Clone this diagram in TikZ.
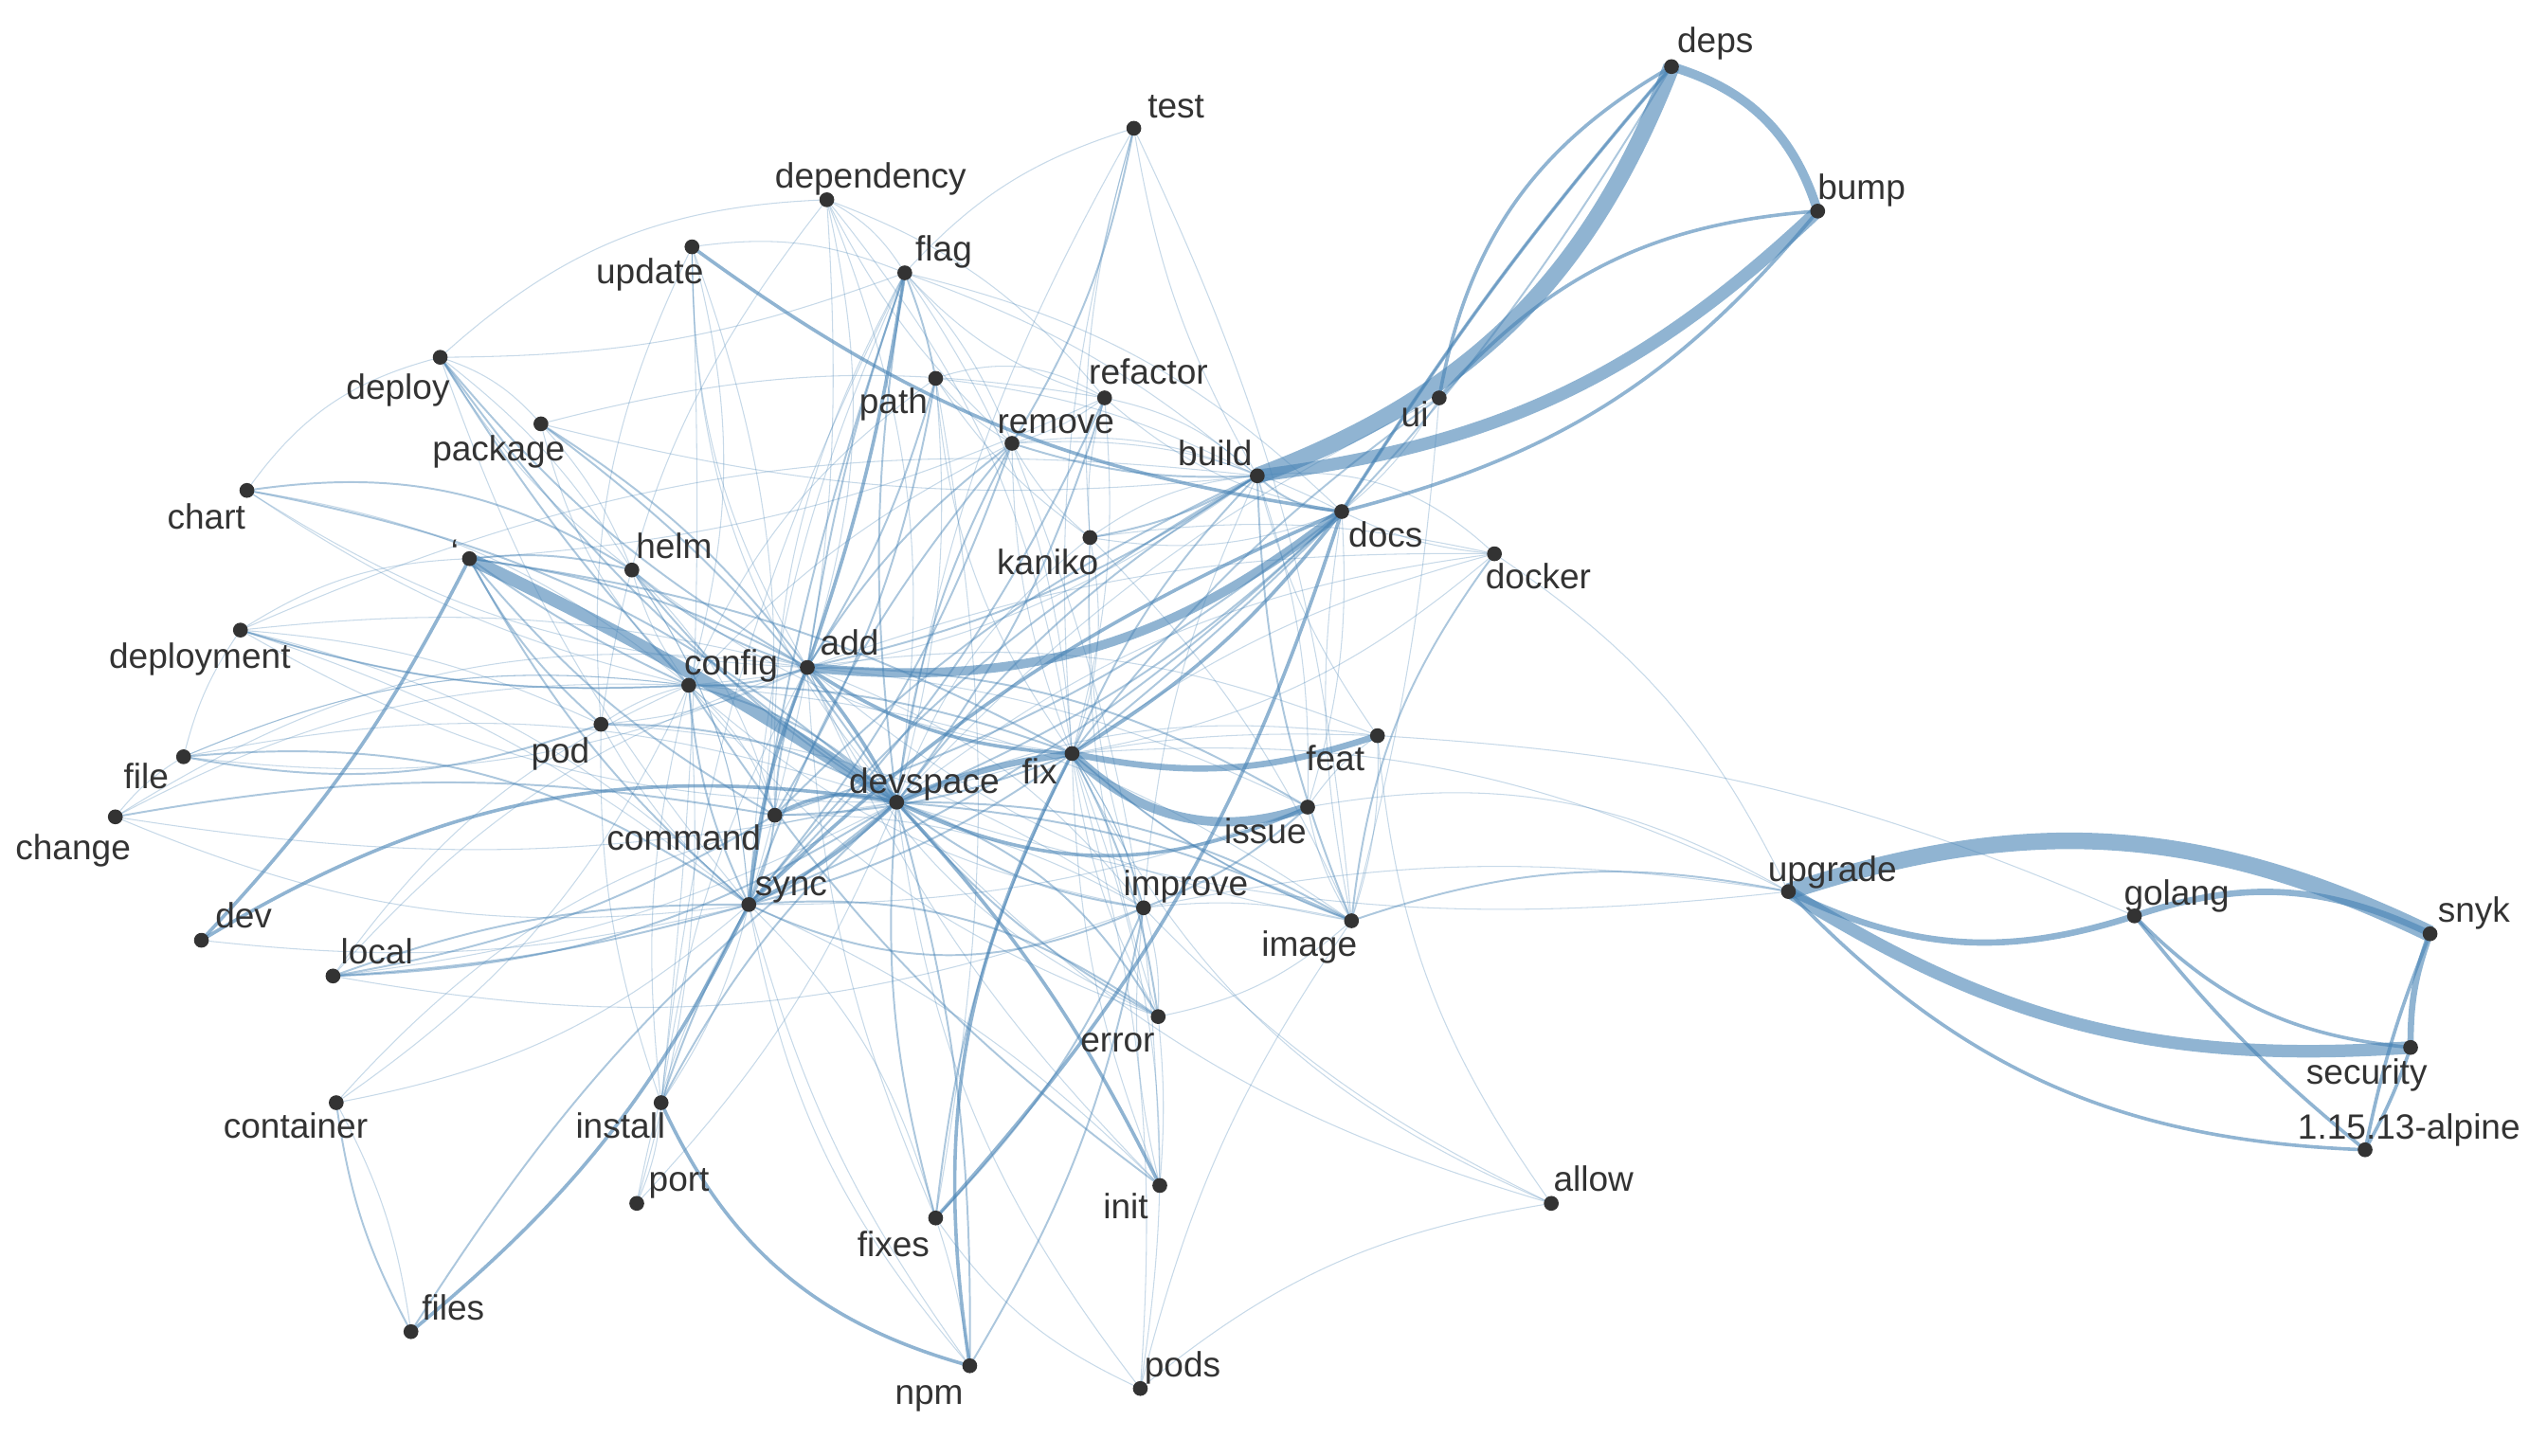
\documentclass[tikz,border=0pt]{standalone}
\usepackage{fontspec}
\setmainfont{Liberation Sans}
\definecolor{edgeblue}{HTML}{4682B4}
\definecolor{inkgray}{HTML}{333333}
\tikzset{
  dot/.style={circle, fill=inkgray, inner sep=0pt, minimum size=5.2pt},
  lbl/.style={text=inkgray, inner sep=0pt, text height=9pt, text depth=2.6pt,
    font=\fontsize{12.3}{14}\selectfont},
  w1/.style={draw=edgeblue, line width=0.35pt, draw opacity=0.3},
  w2/.style={draw=edgeblue, line width=0.65pt, draw opacity=0.45},
  w3/.style={draw=edgeblue, line width=1.2pt, draw opacity=0.6},
  w4/.style={draw=edgeblue, line width=2.2pt, draw opacity=0.6},
  w5/.style={draw=edgeblue, line width=3.2pt, draw opacity=0.6},
  w6/.style={draw=edgeblue, line width=4.4pt, draw opacity=0.6},
  w7/.style={draw=edgeblue, line width=5.8pt, draw opacity=0.6}
}
\begin{document}
\begin{tikzpicture}[x=0.02cm, y=-0.02cm]
      \useasboundingbox (0,0) rectangle (1568,896);
      \path
        (1029,41) coordinate (deps)
        (1119,130) coordinate (bump)
        (698,79) coordinate (test)
        (509,123) coordinate (dependency)
        (557,168) coordinate (flag)
        (426,152) coordinate (update)
        (271,220) coordinate (deploy)
        (680,245) coordinate (refactor)
        (576,233) coordinate (path)
        (623,273) coordinate (remove)
        (886,245) coordinate (ui)
        (333,261) coordinate (package)
        (774,293) coordinate (build)
        (826,315) coordinate (docs)
        (152,302) coordinate (chart)
        (671,331) coordinate (kaniko)
        (920,341) coordinate (docker)
        (389,351) coordinate (helm)
        (289,344) coordinate (tick)
        (148,388) coordinate (deployment)
        (497,411) coordinate (add)
        (424,422) coordinate (config)
        (370,446) coordinate (pod)
        (113,466) coordinate (file)
        (71,503) coordinate (change)
        (848,453) coordinate (feat)
        (660,464) coordinate (fix)
        (552,494) coordinate (devspace)
        (477,502) coordinate (command)
        (805,497) coordinate (issue)
        (461,557) coordinate (sync)
        (704,559) coordinate (improve)
        (832,567) coordinate (image)
        (124,579) coordinate (dev)
        (205,601) coordinate (local)
        (1101,549) coordinate (upgrade)
        (1314,564) coordinate (golang)
        (1496,575) coordinate (snyk)
        (1484,645) coordinate (security)
        (1456,708) coordinate (alpine)
        (713,626) coordinate (error)
        (207,679) coordinate (container)
        (407,679) coordinate (install)
        (392,741) coordinate (port)
        (576,750) coordinate (fixes)
        (714,730) coordinate (init)
        (955,741) coordinate (allow)
        (253,820) coordinate (files)
        (597,841) coordinate (npm)
        (702,855) coordinate (pods);
      \begin{scope}[w1]
        \draw (devspace) to[bend left=15] (deployment);
        \draw (devspace) to[bend right=15] (pods);
        \draw (devspace) to[bend left=10] (port);
        \draw (devspace) to[bend right=20] (container);
        \draw (devspace) to[bend left=15] (kaniko);
        \draw (devspace) to[bend right=10] (path);
        \draw (devspace) to[bend left=20] (update);
        \draw (devspace) to[bend right=15] (dependency);
        \draw (devspace) to[bend left=10] (test);
        \draw (devspace) to[bend left=15] (feat);
        \draw (devspace) to[bend right=12] (upgrade);
        \draw (devspace) to[bend right=15] (allow);
        \draw (devspace) to[bend left=15] (docker);
        \draw (devspace) to[bend right=15] (file);
        \draw (devspace) to[bend left=10] (change);
        \draw (add) to[bend left=15] (update);
        \draw (add) to[bend right=15] (dependency);
        \draw (add) to[bend left=15] (feat);
        \draw (add) to[bend right=15] (image);
        \draw (add) to[bend left=15] (improve);
        \draw (add) to[bend right=20] (error);
        \draw (add) to[bend left=10] (docker);
        \draw (add) to[bend right=10] (deployment);
        \draw (add) to[bend left=15] (chart);
        \draw (add) to[bend right=15] (local);
        \draw (add) to[bend left=10] (pod);
        \draw (add) to[bend right=10] (install);
        \draw (add) to[bend left=15] (file);
        \draw (add) to[bend right=20] (change);
        \draw (fix) to[bend left=10] (improve);
        \draw (fix) to[bend right=10] (init);
        \draw (fix) to[bend left=15] (pods);
        \draw (fix) to[bend right=15] (kaniko);
        \draw (fix) to[bend left=10] (remove);
        \draw (fix) to[bend right=10] (refactor);
        \draw (fix) to[bend left=15] (path);
        \draw (fix) to[bend right=15] (flag);
        \draw (fix) to[bend left=10] (test);
        \draw (fix) to[bend right=15] (dependency);
        \draw (fix) to[bend left=15] (helm);
        \draw (fix) to[bend right=20] (allow);
        \draw (fix) to[bend left=15] (upgrade);
        \draw (fix) to[bend right=15] (docker);
        \draw (sync) to[bend left=15] (container);
        \draw (sync) to[bend right=15] (deployment);
        \draw (sync) to[bend left=15] (change);
        \draw (sync) to[bend right=15] (helm);
        \draw (sync) to[bend left=10] (pod);
        \draw (sync) to[bend right=10] (port);
        \draw (sync) to[bend left=10] (flag);
        \draw (sync) to[bend right=15] (update);
        \draw (sync) to[bend left=15] (fixes);
        \draw (sync) to[bend right=15] (npm);
        \draw (sync) to[bend left=10] (init);
        \draw (sync) to[bend right=10] (issue);
        \draw (sync) to[bend left=10] (dev);
        \draw (command) to[bend left=15] (flag);
        \draw (command) to[bend right=15] (config);
        \draw (command) to[bend left=15] (improve);
        \draw (command) to[bend right=15] (helm);
        \draw (config) to[bend left=10] (deployment);
        \draw (config) to[bend right=15] (file);
        \draw (config) to[bend left=15] (package);
        \draw (config) to[bend right=15] (update);
        \draw (config) to[bend left=10] (helm);
        \draw (config) to[bend right=10] (pod);
        \draw (config) to[bend left=15] (image);
        \draw (config) to[bend right=15] (improve);
        \draw (config) to[bend left=15] (path);
        \draw (config) to[bend right=15] (chart);
        \draw (config) to[bend left=15] (container);
        \draw (build) to[bend left=10] (test);
        \draw (build) to[bend left=25] (docker);
        \draw (build) to[bend right=15] (refactor);
        \draw (build) to[bend left=10] (issue);
        \draw (build) to[bend right=10] (improve);
        \draw (build) to[bend right=15] (deployment);
        \draw (build) to[bend left=10] (package);
        \draw (build) to[bend right=10] (path);
        \draw (build) to[bend left=15] (config);
        \draw (docs) to[bend right=10] (docker);
        \draw (docs) to[bend left=15] (kaniko);
        \draw (docs) to[bend right=10] (image);
        \draw (docs) to[bend left=10] (issue);
        \draw (docs) to[bend right=15] (remove);
        \draw (docs) to[bend left=15] (refactor);
        \draw (docs) to[bend right=15] (flag);
        \draw (update) to[bend left=4] (install);
        \draw (update) to[bend right=15] (pod);
        \draw (update) to[bend left=15] (flag);
        \draw (deploy) to[bend left=20] (dependency);
        \draw (deploy) to[bend right=20] (chart);
        \draw (deploy) to[bend right=10] (flag);
        \draw (deploy) to[bend left=10] (helm);
        \draw (deploy) to[bend right=10] (sync);
        \draw (deploy) to[bend left=15] (package);
        \draw (dependency) to[bend left=15] (flag);
        \draw (dependency) to[bend right=10] (remove);
        \draw (dependency) to[bend left=10] (sync);
        \draw (dependency) to[bend left=15] (refactor);
        \draw (dependency) to[bend right=15] (pod);
        \draw (flag) to[bend left=10] (build);
        \draw (flag) to[bend right=15] (refactor);
        \draw (flag) to[bend left=10] (remove);
        \draw (flag) to[bend right=10] (install);
        \draw (path) to[bend left=25] (refactor);
        \draw (path) to[bend right=10] (remove);
        \draw (path) to[bend left=10] (fixes);
        \draw (path) to[bend right=10] (kaniko);
        \draw (refactor) to[bend left=10] (remove);
        \draw (refactor) to[bend right=10] (kaniko);
        \draw (refactor) to[bend left=10] (tick);
        \draw (package) to[bend left=12] (refactor);
        \draw (remove) to[bend left=15] (build);
        \draw (remove) to[bend right=10] (config);
        \draw (remove) to[bend left=10] (init);
        \draw (remove) to[bend right=10] (kaniko);
        \draw (test) to[bend right=10] (kaniko);
        \draw (test) to[bend left=10] (image);
        \draw (test) to[bend right=15] (flag);
        \draw (kaniko) to[bend left=10] (docker);
        \draw (kaniko) to[bend right=10] (improve);
        \draw (kaniko) to[bend left=10] (image);
        \draw (kaniko) to[bend right=10] (error);
        \draw (kaniko) to[bend left=15] (build);
        \draw (helm) to[bend left=10] (deploy);
        \draw (helm) to[bend right=10] (package);
        \draw (helm) to[bend left=15] (sync);
        \draw (chart) to[bend right=10] (config);
        \draw (deployment) to[bend left=15] (tick);
        \draw (deployment) to[bend left=10] (sync);
        \draw (deployment) to[bend right=10] (file);
        \draw (deployment) to[bend left=10] (pod);
        \draw (pod) to[bend right=10] (install);
        \draw (pod) to[bend left=15] (improve);
        \draw (file) to[bend right=10] (change);
        \draw (file) to[bend left=15] (config);
        \draw (change) to[bend left=15] (config);
        \draw (local) to[bend right=10] (devspace);
        \draw (local) to[bend left=15] (config);
        \draw (local) to[bend right=15] (improve);
        \draw (container) to[bend left=10] (files);
        \draw (install) to[bend left=10] (port);
        \draw (install) to[bend right=10] (sync);
        \draw (install) to[bend left=10] (config);
        \draw (port) to[bend right=10] (config);
        \draw (fixes) to[bend left=10] (add);
        \draw (fixes) to[bend right=15] (pods);
        \draw (fixes) to[bend left=5] (npm);
        \draw (npm) to[bend left=10] (sync);
        \draw (pods) to[bend left=15] (allow);
        \draw (pods) to[bend right=10] (fix);
        \draw (pods) to[bend left=10] (image);
        \draw (init) to[bend left=10] (improve);
        \draw (init) to[bend right=5] (error);
        \draw (init) to[bend left=10] (add);
        \draw (error) to[bend right=10] (improve);
        \draw (error) to[bend left=10] (fix);
        \draw (error) to[bend right=15] (image);
        \draw (error) to[bend left=15] (config);
        \draw (improve) to[bend right=10] (fix);
        \draw (improve) to[bend left=10] (image);
        \draw (improve) to[bend left=10] (upgrade);
        \draw (image) to[bend left=10] (fix);
        \draw (image) to[bend right=5] (ui);
        \draw (image) to[bend right=10] (feat);
        \draw (image) to[bend left=10] (issue);
        \draw (issue) to[bend left=20] (upgrade);
        \draw (issue) to[bend right=10] (add);
        \draw (issue) to[bend left=10] (feat);
        \draw (feat) to[bend right=10] (devspace);
        \draw (feat) to[bend left=10] (golang);
        \draw (feat) to[bend right=15] (allow);
        \draw (feat) to[bend left=10] (build);
        \draw (docker) to[bend left=15] (upgrade);
        \draw (docker) to[bend right=10] (fix);
        \draw (allow) to[bend left=10] (improve);
        \draw (ui) to[bend right=10] (devspace);
        \draw (ui) to[bend left=10] (docs);
      \end{scope}
      \begin{scope}[w2]
        \draw (devspace) to[bend right=15] (config);
        \draw (devspace) to[bend left=10] (deploy);
        \draw (devspace) to[bend right=10] (package);
        \draw (devspace) to[bend left=10] (helm);
        \draw (devspace) to[bend right=15] (chart);
        \draw (devspace) to[bend left=15] (image);
        \draw (devspace) to[bend right=15] (improve);
        \draw (devspace) to[bend left=20] (error);
        \draw (devspace) to[bend right=10] (fixes);
        \draw (devspace) to[bend left=8] (npm);
        \draw (devspace) to[bend right=10] (install);
        \draw (devspace) to[bend left=15] (local);
        \draw (devspace) to[bend right=10] (files);
        \draw (devspace) to[bend left=10] (build);
        \draw (devspace) to[bend right=10] (docs);
        \draw (devspace) to[bend left=10] (remove);
        \draw (devspace) to[bend right=10] (refactor);
        \draw (devspace) to[bend left=8] (flag);
        \draw (devspace) to[bend right=15] (pod);
        \draw (add) to[bend left=10] (config);
        \draw (add) to[bend right=10] (command);
        \draw (add) to[bend left=5] (flag);
        \draw (add) to[bend right=8] (path);
        \draw (add) to[bend left=10] (remove);
        \draw (add) to[bend right=10] (build);
        \draw (add) to[bend left=10] (deploy);
        \draw (add) to[bend right=10] (package);
        \draw (add) to[bend left=12] (helm);
        \draw (add) to[bend right=10] (tick);
        \draw (add) to[bend left=15] (issue);
        \draw (fix) to[bend left=10] (build);
        \draw (fix) to[bend right=10] (deps);
        \draw (fix) to[bend left=10] (sync);
        \draw (fix) to[bend right=10] (config);
        \draw (fix) to[bend left=10] (command);
        \draw (fix) to[bend right=10] (fixes);
        \draw (fix) to[bend left=10] (error);
        \draw (fix) to[bend right=10] (image);
        \draw (fix) to[bend right=10] (tick);
        \draw (sync) to[bend right=10] (local);
        \draw (sync) to[bend left=6] (local);
        \draw (sync) to[bend right=20] (file);
        \draw (sync) to[bend left=10] (config);
        \draw (sync) to[bend right=10] (command);
        \draw (sync) to[bend left=10] (tick);
        \draw (sync) to[bend right=5] (install);
        \draw (sync) to[bend left=20] (error);
        \draw (sync) to[bend right=25] (improve);
        \draw (sync) to[bend left=10] (build);
        \draw (sync) to[bend right=10] (docs);
        \draw (sync) to[bend left=10] (remove);
        \draw (sync) to[bend right=10] (refactor);
        \draw (command) to[bend left=10] (tick);
        \draw (command) to[bend right=10] (change);
        \draw (command) to[bend left=10] (local);
        \draw (command) to[bend right=10] (docs);
        \draw (command) to[bend left=10] (build);
        \draw (command) to[bend right=10] (path);
        \draw (config) to[bend left=5] (tick);
        \draw (config) to[bend right=10] (init);
        \draw (config) to[bend left=10] (deployment);
        \draw (build) to[bend left=10] (kaniko);
        \draw (build) to[bend right=20] (docs);
        \draw (build) to[bend left=10] (remove);
        \draw (build) to[bend right=10] (image);
        \draw (tick) to[bend left=10] (helm);
        \draw (tick) to[bend right=10] (pod);
        \draw (chart) to[bend left=20] (helm);
        \draw (deploy) to[bend right=5] (config);
        \draw (flag) to[bend left=5] (path);
        \draw (flag) to[bend right=5] (sync);
        \draw (remove) to[bend right=10] (test);
        \draw (remove) to[bend left=10] (sync);
        \draw (file) to[bend right=15] (pod);
        \draw (fixes) to[bend right=10] (improve);
        \draw (npm) to[bend right=10] (improve);
        \draw (files) to[bend left=10] (container);
        \draw (error) to[bend left=10] (devspace);
        \draw (improve) to[bend right=10] (issue);
        \draw (image) to[bend left=15] (docker);
        \draw (image) to[bend left=15] (upgrade);
        \draw (image) to[bend right=10] (devspace);
        \draw (ui) to[bend right=8] (fix);
        \draw (deps) to[bend right=4] (docs);
      \end{scope}
      \begin{scope}[w3]
        \draw (golang) to[bend right=20] (security);
        \draw (upgrade) to[bend right=22] (alpine);
        \draw (golang) to[bend right=6] (alpine);
        \draw (snyk) to[bend right=5] (alpine);
        \draw (security) to[bend left=5] (alpine);
        \draw (ui) to[bend left=25] (deps);
        \draw (ui) to[bend left=22] (bump);
        \draw (docs) to[bend left=4] (deps);
        \draw (docs) to[bend right=18] (bump);
        \draw (add) to[bend left=6] (devspace);
        \draw (add) to[bend right=15] (fix);
        \draw (add) to[bend right=8] (sync);
        \draw (command) to[bend left=22] (devspace);
        \draw (devspace) to[bend left=8] (sync);
        \draw (devspace) to[bend right=25] (issue);
        \draw (devspace) to[bend left=8] (init);
        \draw (dev) to[bend left=20] (devspace);
        \draw (dev) to[bend right=8] (tick);
        \draw (update) to[bend right=14] (docs);
        \draw (install) to[bend right=25] (npm);
        \draw (docs) to[bend left=12] (fixes);
        \draw (docs) to[bend right=10] (sync);
        \draw (docs) to[bend left=10] (fix);
        \draw (fix) to[bend right=18] (npm);
        \draw (files) to[bend right=12] (sync);
        \draw (flag) to[bend left=5] (add);
      \end{scope}
      \begin{scope}[w4]
        \draw (snyk) to[bend right=10] (security);
        \draw (upgrade) to[bend right=22] (golang);
        \draw (golang) to[bend left=22] (snyk);
        \draw (fix) to[bend right=15] (feat);
        \draw (devspace) to[bend left=8] (fix);
      \end{scope}
      \begin{scope}[w5]
        \draw (deps) to[bend left=28] (bump);
        \draw (add) to[bend right=22] (docs);
        \draw (fix) to[bend right=32] (issue);
      \end{scope}
      \begin{scope}[w6]
        \draw (build) to[bend right=18] (bump);
        \draw (tick) to[bend left=4] (devspace);
        \draw (upgrade) to[bend right=18] (security);
      \end{scope}
      \begin{scope}[w7]
        \draw (build) to[bend right=24] (deps);
        \draw (upgrade) to[bend left=22] (snyk);
      \end{scope}
      \foreach \n in {deps,bump,test,dependency,flag,update,deploy,refactor,path,remove,ui,package,build,docs,chart,kaniko,docker,helm,tick,deployment,add,config,pod,file,change,feat,fix,devspace,command,issue,sync,improve,image,dev,local,upgrade,golang,snyk,security,alpine,error,container,install,port,fixes,init,allow,files,npm,pods}
        \node[dot] (\n-dot) at (\n) {};
      \node[lbl] (deps-l) at (1056,27) {deps};
      \node[lbl] (bump-l) at (1146,117) {bump};
      \node[lbl] (test-l) at (724,67) {test};
      \node[lbl] (dependency-l) at (536,110) {dependency};
      \node[lbl] (flag-l) at (581,155) {flag};
      \node[lbl] (update-l) at (400,169) {update};
      \node[lbl] (deploy-l) at (245,240) {deploy};
      \node[lbl] (refactor-l) at (707,231) {refactor};
      \node[lbl] (path-l) at (550,249) {path};
      \node[lbl] (remove-l) at (650,261) {remove};
      \node[lbl] (ui-l) at (871,257) {ui};
      \node[lbl] (package-l) at (307,278) {package};
      \node[lbl] (build-l) at (748,281) {build};
      \node[lbl] (docs-l) at (853,331) {docs};
      \node[lbl] (chart-l) at (127,320) {chart};
      \node[lbl] (kaniko-l) at (645,348) {kaniko};
      \node[lbl] (docker-l) at (947,357) {docker};
      \node[lbl] (helm-l) at (415,338) {helm};
      \node[lbl] (tick-l) at (280,342) {`};
      \node[lbl] (deployment-l) at (123,406) {deployment};
      \node[lbl] (add-l) at (523,398) {add};
      \node[lbl] (config-l) at (450,410) {config};
      \node[lbl] (pod-l) at (345,464) {pod};
      \node[lbl] (file-l) at (90,480) {file};
      \node[lbl] (change-l) at (45,524) {change};
      \node[lbl] (feat-l) at (822,469) {feat};
      \node[lbl] (fix-l) at (640,477) {fix};
      \node[lbl] (devspace-l) at (569,483) {devspace};
      \node[lbl] (command-l) at (421,518) {command};
      \node[lbl] (issue-l) at (779,514) {issue};
      \node[lbl] (sync-l) at (487,546) {sync};
      \node[lbl] (improve-l) at (730,546) {improve};
      \node[lbl] (image-l) at (806,583) {image};
      \node[lbl] (dev-l) at (150,566) {dev};
      \node[lbl] (local-l) at (232,588) {local};
      \node[lbl] (upgrade-l) at (1128,537) {upgrade};
      \node[lbl] (golang-l) at (1340,552) {golang};
      \node[lbl] (snyk-l) at (1523,562) {snyk};
      \node[lbl] (security-l) at (1457,662) {security};
      \node[lbl] (alpine-l) at (1483,696) {1.15.13-alpine};
      \node[lbl] (error-l) at (688,642) {error};
      \node[lbl] (container-l) at (182,695) {container};
      \node[lbl] (install-l) at (382,695) {install};
      \node[lbl] (port-l) at (418,728) {port};
      \node[lbl] (fixes-l) at (550,768) {fixes};
      \node[lbl] (init-l) at (693,745) {init};
      \node[lbl] (allow-l) at (981,728) {allow};
      \node[lbl] (files-l) at (279,807) {files};
      \node[lbl] (npm-l) at (572,859) {npm};
      \node[lbl] (pods-l) at (728,842) {pods};
    \end{tikzpicture}
\end{document}
